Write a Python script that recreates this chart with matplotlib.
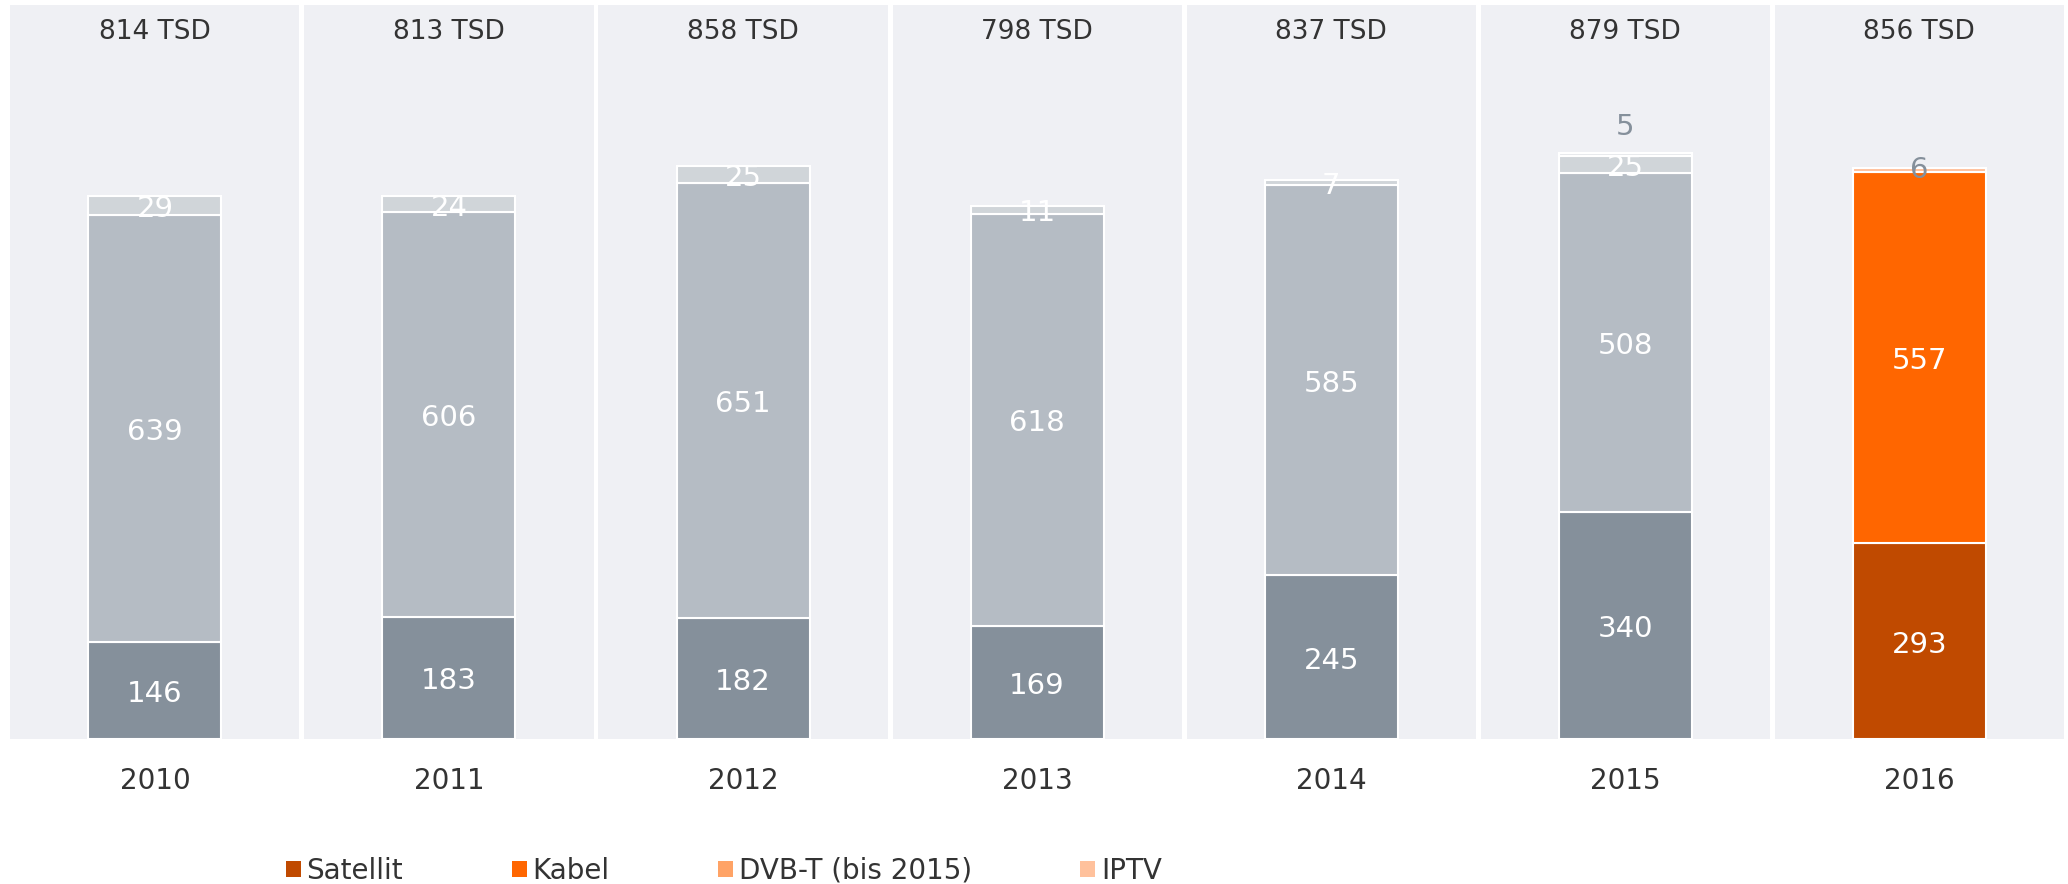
import matplotlib.pyplot as plt
from matplotlib.patches import Patch

years = ["2010", "2011", "2012", "2013", "2014", "2015", "2016"]
totals = ["814 TSD", "813 TSD", "858 TSD", "798 TSD", "837 TSD", "879 TSD", "856 TSD"]
satellit = [146, 183, 182, 169, 245, 340, 293]
kabel = [639, 606, 651, 618, 585, 508, 557]
dvbt = [29, 24, 25, 11, 7, 25, 0]
iptv = [0, 0, 0, 0, 0, 5, 6]
series_names = ["Satellit", "Kabel", "DVB-T (bis 2015)", "IPTV"]

grey_cols = ["#85909B", "#B5BCC4", "#D0D5D9", "#E6E9EC"]
orange_cols = ["#C04A00", "#FF6600", "#FFA366", "#FFC19C"]
bg = "#EFF0F4"
label_grey = "#85909B"

plt.rcParams["font.family"] = ["DejaVu Sans"]

fig, axes = plt.subplots(1, 7, figsize=(20.68, 8.84), dpi=100, sharey=True)
fig.subplots_adjust(left=0.005, right=0.998, top=0.994, bottom=0.164, wspace=0.017)

for i, ax in enumerate(axes):
    ax.set_facecolor(bg)
    for s in ax.spines.values():
        s.set_visible(False)
    cols = orange_cols if i == 6 else grey_cols
    vals = [satellit[i], kabel[i], dvbt[i], iptv[i]]
    bottom = 0
    for j, v in enumerate(vals):
        if v > 0:
            ax.bar(0, v, bottom=bottom, width=0.46, color=cols[j],
                   edgecolor="white", linewidth=1.5)
            if j < 3:
                ax.text(0, bottom + v / 2 - 5, str(v), ha="center", va="center",
                        color="white", fontsize=21)
            elif i == 6:
                ax.text(0, bottom + v / 2, str(v), ha="center", va="center",
                        color=label_grey, fontsize=21)
            else:
                ax.text(0, bottom + v + 38, str(v), ha="center", va="center",
                        color=label_grey, fontsize=21)
        bottom += v
    ax.text(0.5, 0.964, totals[i], transform=ax.transAxes, ha="center",
            va="center", fontsize=19, color="#333333")
    ax.set_xlim(-0.5, 0.5)
    ax.set_ylim(0, 1099)
    ax.set_yticks([])
    ax.set_xticks([0])
    ax.set_xticklabels([years[i]], fontsize=20, color="#333333")
    ax.tick_params(axis="x", length=0, pad=20)

handles = [Patch(facecolor=c, edgecolor="none") for c in orange_cols]
fig.legend(handles, series_names, loc="center", bbox_to_anchor=(0.35, 0.015),
           ncol=4, frameon=False, fontsize=20, handlelength=0.55,
           handleheight=0.55, handletextpad=0.2, columnspacing=3.9,
           labelcolor="#333333")

fig.savefig("out.png", dpi=100, facecolor="white")
